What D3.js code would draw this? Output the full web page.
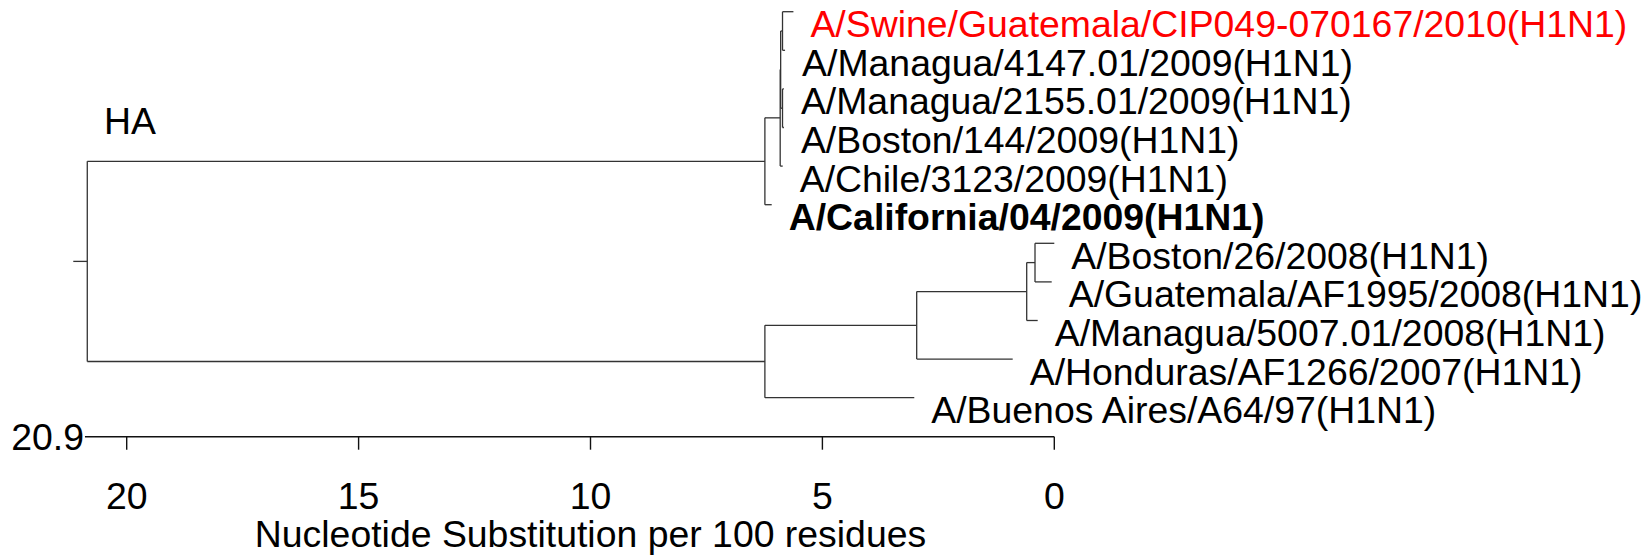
<!DOCTYPE html>
<html>
<head>
<meta charset="utf-8">
<script src="https://cdn.jsdelivr.net/npm/d3@7"></script>
<style>
    html, body { margin: 0; padding: 0; background: #fff; }
    #ha-tree { width: 1647px; height: 556px; }
    .tree-line { stroke: #333; stroke-width: 1.3; fill: none; }
    .axis-line { stroke: #111; stroke-width: 1.4; }
    .taxon, .tick-label, .axis-title, .panel-label {
        font-family: "Liberation Sans", Arial, sans-serif;
        font-size: 37.4px;
        fill: #000;
    }
    .taxon.is-swine { fill: #ff0000; }
    .taxon.is-ref { font-weight: bold; }
</style>
</head>
<body>
<div id="ha-tree"></div>
<script>
// --- 1. DATA ---
// tree topology: id, parent, branch length (substitutions per 100 residues)
const nodeId = [
    "root",
    "pdm", "A", "H", "B",
    "A/Swine/Guatemala/CIP049-070167/2010(H1N1)",
    "A/Managua/4147.01/2009(H1N1)",
    "C",
    "A/Managua/2155.01/2009(H1N1)",
    "A/Boston/144/2009(H1N1)",
    "A/Chile/3123/2009(H1N1)",
    "A/California/04/2009(H1N1)",
    "old", "D", "E", "F",
    "A/Boston/26/2008(H1N1)",
    "A/Guatemala/AF1995/2008(H1N1)",
    "A/Managua/5007.01/2008(H1N1)",
    "A/Honduras/AF1266/2007(H1N1)",
    "A/Buenos Aires/A64/97(H1N1)"
];
const nodeParent = [
    "",
    "root", "pdm", "A", "H",
    "B", "B",
    "H", "C", "C",
    "A",
    "pdm",
    "root", "old", "D", "E",
    "F", "F",
    "E",
    "D",
    "old"
];
const branchLength = [
    0,
    14.61, 0.33, 0.01, 0.04,
    0.235, 0.055,
    0.04, 0.03, 0.03,
    0.054,
    0.147,
    14.61, 3.273, 2.372, 0.179,
    0.416, 0.36,
    0.237,
    2.07,
    3.221
];
const rootDepth = 20.85;
const scaleMax = 20.9;
const tickValues = [20, 15, 10, 5, 0];
const swineTaxon = "A/Swine/Guatemala/CIP049-070167/2010(H1N1)";
const refTaxon = "A/California/04/2009(H1N1)";

(function () {
    'use strict';

    function renderTree() {
        const width = 1647, height = 556;

        const svg = d3.select("#ha-tree").append("svg")
            .attr("width", width)
            .attr("height", height);

        // --- 2. HIERARCHY ---
        const rows = nodeId.map((id, i) => ({ id: id, parent: nodeParent[i] || null, len: branchLength[i] }));
        const root = d3.stratify().id(d => d.id).parentId(d => d.parent)(rows);

        // value on the scale bar: root sits at rootDepth, each branch moves right
        root.eachBefore(n => {
            n.v = n.parent ? n.parent.v - n.data.len : rootDepth;
        });

        // --- 3. SCALES ---
        const x = d3.scaleLinear().domain([0, 20]).range([1054.3, 126.7]);
        const leaves = root.leaves();
        const y = d3.scalePoint().domain(leaves.map(d => d.id)).range([11.7, 397.7]);

        root.eachAfter(n => {
            n.y = n.children ? (n.children[0].y + n.children[n.children.length - 1].y) / 2 : y(n.id);
            n.x = x(n.v);
        });

        const g = svg.append("g");

        // --- 4. BRANCHES ---
        // horizontal piece of every branch
        g.selectAll(".h-branch").data(root.descendants().filter(n => n.parent)).enter().append("line")
            .attr("class", "tree-line")
            .attr("x1", d => d.parent.x).attr("x2", d => d.x)
            .attr("y1", d => d.y).attr("y2", d => d.y);

        // vertical connector for each internal node
        g.selectAll(".v-branch").data(root.descendants().filter(n => n.children)).enter().append("line")
            .attr("class", "tree-line")
            .attr("x1", d => d.x).attr("x2", d => d.x)
            .attr("y1", d => d.children[0].y)
            .attr("y2", d => d.children[d.children.length - 1].y);

        // root stub
        g.append("line").attr("class", "tree-line")
            .attr("x1", root.x - 14).attr("x2", root.x)
            .attr("y1", root.y).attr("y2", root.y);

        // --- 5. TAXON LABELS ---
        g.selectAll(".taxon").data(leaves).enter().append("text")
            .attr("class", d => "taxon" + (d.id === swineTaxon ? " is-swine" : "") + (d.id === refTaxon ? " is-ref" : ""))
            .attr("x", d => d.x + 17)
            .attr("y", d => d.y + 25.5)
            .text(d => d.id);

        svg.append("text").attr("class", "panel-label")
            .attr("x", 104).attr("y", 134)
            .text("HA");

        // --- 6. SCALE BAR ---
        const axisY = 436.7;
        svg.append("line").attr("class", "axis-line")
            .attr("x1", x(scaleMax)).attr("x2", x(0))
            .attr("y1", axisY).attr("y2", axisY);

        svg.selectAll(".tick").data(tickValues).enter().append("line")
            .attr("class", "axis-line")
            .attr("x1", d => x(d)).attr("x2", d => x(d))
            .attr("y1", axisY).attr("y2", axisY + 13);

        svg.selectAll(".tick-label").data(tickValues).enter().append("text")
            .attr("class", "tick-label")
            .attr("x", d => x(d)).attr("y", 509)
            .attr("text-anchor", "middle")
            .text(d => d);

        svg.append("text").attr("class", "axis-title")
            .attr("x", x(scaleMax) - 1).attr("y", axisY)
            .attr("class", "tick-label")
            .attr("dy", "0.35em")
            .attr("text-anchor", "end")
            .text(scaleMax);

        svg.append("text").attr("class", "axis-title")
            .attr("x", x(10)).attr("y", 547)
            .attr("text-anchor", "middle")
            .text("Nucleotide Substitution per 100 residues");
    }

    if (document.readyState === 'loading') {
        document.addEventListener('DOMContentLoaded', renderTree);
    } else {
        renderTree();
    }
})();
</script>
</body>
</html>
